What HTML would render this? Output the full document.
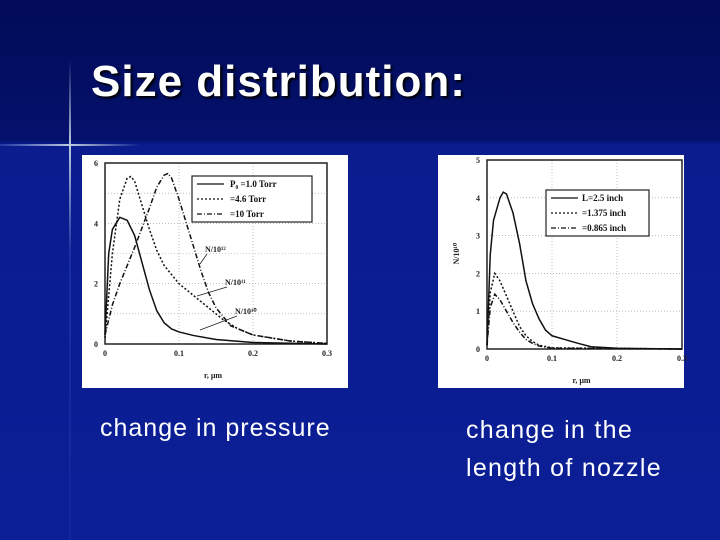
<!DOCTYPE html>
<html><head><meta charset="utf-8"><style>
html,body{margin:0;padding:0}
body{width:720px;height:540px;overflow:hidden;position:relative;font-family:"Liberation Sans",sans-serif;
background:linear-gradient(180deg,#020c58 0px,#04106c 140px,#0a1c8e 145px,#0b1e96 540px)}
.t{position:absolute;color:#fff}
</style></head><body>
<div class="t" style="left:91px;top:57px;font-size:44px;font-weight:bold;letter-spacing:1px;text-shadow:2px 2px 2px #000">Size distribution:</div>
<div style="position:absolute;left:0;top:144px;width:140px;height:2px;background:linear-gradient(90deg,rgba(120,150,255,.2),#bcd 50%,rgba(120,150,255,0))"></div>
<div style="position:absolute;left:69px;top:60px;width:2px;height:480px;background:linear-gradient(180deg,rgba(120,150,255,0),#bcd 18%,rgba(60,90,200,.3) 40%,rgba(60,90,200,.15))"></div>
<div class="t" style="left:100px;top:414px;font-size:25px;letter-spacing:1px">change in pressure</div>
<div class="t" style="left:466px;top:411px;font-size:25px;letter-spacing:1.3px;line-height:38px">change in the<br>length of nozzle</div>
<svg id="s" width="720" height="540" style="position:absolute;left:0;top:0" font-family="Liberation Serif,serif" font-weight="bold"></svg>
<script>
// left chart data
const lX=[0,0.005,0.01,0.02,0.03,0.04,0.05,0.06,0.07,0.08,0.09,0.1,0.12,0.15,0.2,0.3];
const lSolid=[0.3,3,3.8,4.2,4.1,3.6,2.7,1.8,1.1,0.7,0.5,0.4,0.28,0.15,0.05,0];
const lX2=[0,0.01,0.02,0.03,0.035,0.04,0.05,0.06,0.07,0.08,0.1,0.12,0.14,0.16,0.18,0.2,0.25,0.3];
const lDot=[0.2,3,4.8,5.5,5.55,5.4,4.6,3.8,3.1,2.6,2.0,1.6,1.2,0.8,0.5,0.3,0.1,0.02];
const lX3=[0,0.01,0.02,0.04,0.06,0.07,0.08,0.085,0.09,0.1,0.11,0.12,0.13,0.14,0.15,0.17,0.2,0.25,0.3];
const lDash=[0.3,1.3,2,3.2,4.5,5.2,5.6,5.65,5.5,4.8,4,3.2,2.4,1.7,1.2,0.6,0.3,0.1,0.02];
// right chart data
const rX=[0,0.005,0.01,0.02,0.025,0.03,0.04,0.05,0.06,0.07,0.08,0.09,0.1,0.12,0.14,0.16,0.2,0.3];
const rSolid=[0.1,2.5,3.4,4.0,4.15,4.1,3.6,2.8,1.8,1.2,0.8,0.5,0.35,0.25,0.15,0.06,0.02,0];
const rX2=[0,0.005,0.012,0.02,0.03,0.04,0.05,0.06,0.07,0.08,0.1,0.3];
const rDot=[0.1,1.5,2.0,1.8,1.4,1.0,0.6,0.35,0.2,0.1,0.03,0];
const rDash=[0.1,1.1,1.45,1.3,1.0,0.7,0.45,0.25,0.15,0.08,0.02,0];
const xTicks=["0","0.1","0.2","0.3"];
const NS="http://www.w3.org/2000/svg",svg=document.getElementById('s');
function mk(t,a,p){const e=document.createElementNS(NS,t);for(const k in a)e.setAttribute(k,a[k]);(p||svg).appendChild(e);return e;}
function chart(name,bg,box,ymax,series,legend,lg,ylab){
  const g=mk('g',{});
  
  
  mk('rect',{x:bg[0],y:bg[1],width:bg[2],height:bg[3],fill:'#fff'},g);
  const [L,T,R,B]=box;
  const sx=v=>L+v/0.3*(R-L), sy=v=>B-v/ymax*(B-T);
  for(let i=1;i<3;i++){const gl=mk('line',{x1:sx(i*0.1),x2:sx(i*0.1),y1:T,y2:B,stroke:'#999','stroke-width':0.6,'stroke-dasharray':'1,2'},g);}
  for(let i=1;i<ymax;i++){const gl=mk('line',{x1:L,x2:R,y1:sy(i),y2:sy(i),stroke:'#999','stroke-width':0.6,'stroke-dasharray':'1,2'},g);}
  const fr=mk('rect',{x:L,y:T,width:R-L,height:B-T,fill:'none',stroke:'#222','stroke-width':1.5},g);
  
  xTicks.forEach((t,i)=>{const e=mk('text',{x:sx(i*0.1),y:B+12,'font-size':8,'text-anchor':'middle',fill:'#222'},g);e.textContent=t;});
  for(let i=0;i<=ymax;i+=(ymax==6?2:1)){const e=mk('text',{x:L-9,y:sy(i)+3,'font-size':8,'text-anchor':'middle',fill:'#222'},g);e.textContent=i;}
  const xl=mk('text',{x:(L+R)/2-12,y:B+34,'font-size':8,fill:'#222'},g);xl.textContent='r, \u00b5m';
  
  if(ylab){const yl=mk('text',{x:0,y:0,'font-size':8,fill:'#222',transform:`translate(${L-28},${(T+B)/2+10}) rotate(-90)`},g);yl.textContent=ylab;}
  series.forEach(s=>{const p=mk('polyline',{points:s.x.map((v,i)=>sx(v)+','+sy(s.y[i])).join(' '),fill:'none',stroke:'#111','stroke-width':1.5,'stroke-dasharray':s.d},g);});
  const lb=mk('rect',{x:lg[0],y:lg[1],width:lg[2],height:lg[3],fill:'#fff',stroke:'#222','stroke-width':1.2},g);
  
  legend.forEach((t,i)=>{const y=lg[1]+10+i*15;mk('line',{x1:lg[0]+5,x2:lg[0]+32,y1:y-2,y2:y-2,stroke:'#111','stroke-width':1.2,'stroke-dasharray':series[i].d},g);
    const e=mk('text',{x:lg[0]+(ymax==6?38:36),y:y+1,'font-size':9,fill:'#111'},g);e.textContent=t;});
  return {sx,sy,g};
}
const c1=chart('pressure-chart',[82,155,266,233],[105,163,327,344],6,
 [{x:lX,y:lSolid,d:'',n:'line-1torr'},{x:lX2,y:lDot,d:'2,2',n:'line-4.6torr'},{x:lX3,y:lDash,d:'5,2,1,2',n:'line-10torr'}],
 ['P\u2080 =1.0  Torr','      =4.6  Torr','      =10  Torr'],[192,176,120,46]);
[['N/10\u00b9\u00b2',205,252,200,264],['N/10\u00b9\u00b9',225,285,197,296],['N/10\u00b9\u2070',235,314,200,330]].forEach(a=>{
  const e=mk('text',{x:a[1],y:a[2],'font-size':8,fill:'#222'},c1.g);e.textContent=a[0];
  mk('line',{x1:a[1]+2,y1:a[2]+2,x2:a[3],y2:a[4],stroke:'#222','stroke-width':0.8},c1.g);});
chart('nozzle-chart',[438,155,246,233],[487,160,682,349],5,
 [{x:rX,y:rSolid,d:'',n:'line-2.5inch'},{x:rX2,y:rDot,d:'2,2',n:'line-1.375inch'},{x:rX2,y:rDash,d:'5,2,1,2',n:'line-0.865inch'}],
 ['L=2.5  inch','    =1.375  inch','    =0.865  inch'],[546,190,103,46],'N/10\u00b9\u2070');
</script>
</body></html>
